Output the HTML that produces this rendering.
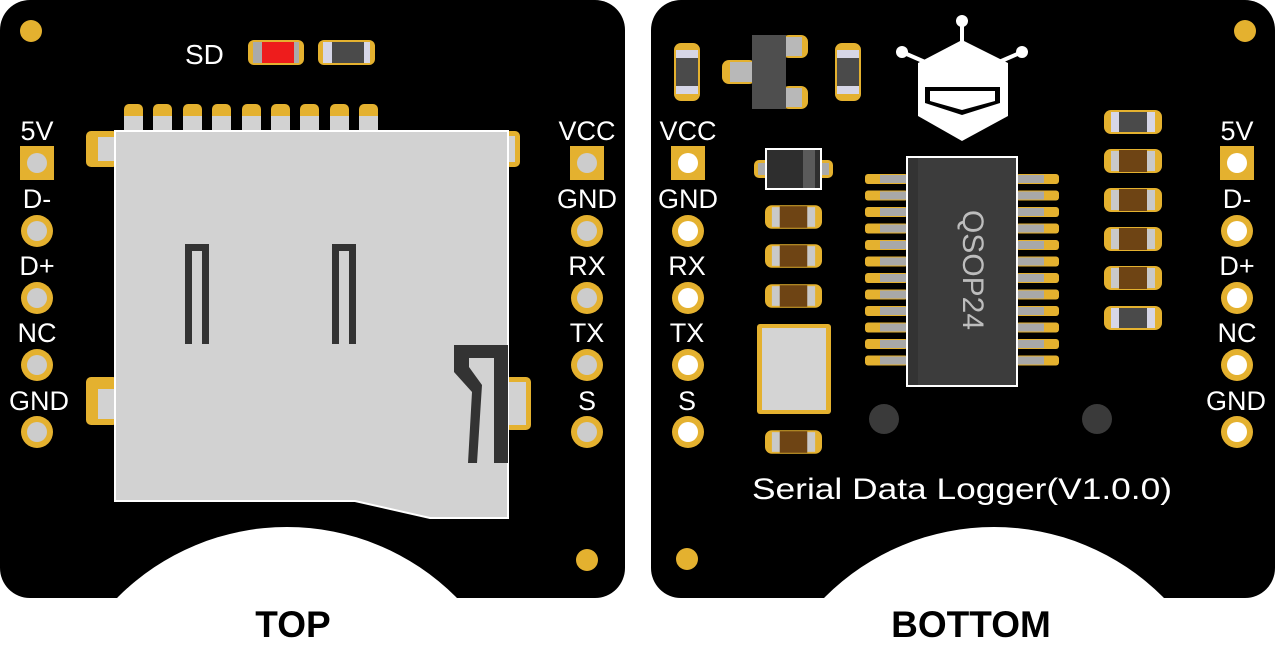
<!DOCTYPE html>
<html><head><meta charset="utf-8"><style>
html,body{margin:0;padding:0;background:#fff;width:1277px;height:646px;overflow:hidden;}
svg{display:block;}
text{font-family:"Liberation Sans",sans-serif;}
</style></head><body>
<svg width="1277" height="646" viewBox="0 0 1277 646" xmlns="http://www.w3.org/2000/svg">
<defs>
<symbol id="hb" viewBox="0 0 58 24"><rect width="58" height="24" rx="7" fill="#e4b12f"/><rect x="7" y="2" width="44" height="20" fill="#c9c9c9"/><rect x="15" y="1" width="28" height="22" fill="#6e4414"/></symbol>
<symbol id="hd" viewBox="0 0 58 24"><rect width="58" height="24" rx="7" fill="#e4b12f"/><rect x="7" y="2" width="44" height="20" fill="#d6d6e6"/><rect x="15" y="2" width="28" height="20" fill="#4a4a4a"/></symbol>
<symbol id="vd" viewBox="0 0 26 58"><rect width="26" height="58" rx="7" fill="#e4b12f"/><rect x="2" y="7" width="22" height="44" fill="#d6d6e6"/><rect x="2" y="15" width="22" height="28" fill="#4a4a4a"/></symbol>
<symbol id="ps" viewBox="0 0 34 34"><rect width="34" height="34" fill="#e4b12f"/><circle cx="17" cy="17" r="10" fill="#cccccc"/></symbol>
<symbol id="pc" viewBox="0 0 34 34"><circle cx="17" cy="17" r="16" fill="#e4b12f"/><circle cx="17" cy="17" r="10" fill="#cccccc"/></symbol>
<symbol id="psw" viewBox="0 0 34 34"><rect width="34" height="34" fill="#e4b12f"/><circle cx="17" cy="17" r="10" fill="#fff"/></symbol>
<symbol id="pcw" viewBox="0 0 34 34"><circle cx="17" cy="17" r="16" fill="#e4b12f"/><circle cx="17" cy="17" r="10" fill="#fff"/></symbol>
</defs>

<!-- LEFT BOARD -->
<rect x="0" y="0" width="625" height="598" rx="30" fill="#000"/>
<circle cx="287" cy="766" r="239" fill="#fff"/>
<circle cx="31" cy="31" r="11" fill="#e4b12f"/>
<circle cx="587" cy="560" r="11" fill="#e4b12f"/>
<text x="185" y="64" font-size="28" fill="#fff">SD</text>
<rect x="248" y="40" width="56" height="25" rx="6" fill="#e4b12f"/><rect x="253" y="42" width="46" height="21" fill="#aaa"/><rect x="262" y="42" width="32" height="21" fill="#ee1c1c"/>
<rect x="318" y="40" width="57" height="25" rx="6" fill="#e4b12f"/><rect x="323" y="42" width="47" height="21" fill="#d6d6e6"/><rect x="332" y="42" width="32" height="21" fill="#4a4a4a"/>
<g fill="#e4b12f">
<rect x="124" y="104" width="19" height="30" rx="5"/><rect x="153" y="104" width="19" height="30" rx="5"/><rect x="183" y="104" width="19" height="30" rx="5"/><rect x="212" y="104" width="19" height="30" rx="5"/><rect x="242" y="104" width="19" height="30" rx="5"/><rect x="271" y="104" width="19" height="30" rx="5"/><rect x="300" y="104" width="19" height="30" rx="5"/><rect x="330" y="104" width="19" height="30" rx="5"/><rect x="359" y="104" width="19" height="30" rx="5"/>
<rect x="86" y="131" width="32" height="36" rx="5"/>
<rect x="86" y="377" width="32" height="48" rx="5"/>
<rect x="505" y="131" width="15" height="36" rx="5"/>
<rect x="505" y="377" width="26" height="53" rx="5"/>
</g>
<g fill="#d2d2d2">
<rect x="124" y="116" width="19" height="15"/><rect x="153" y="116" width="19" height="15"/><rect x="183" y="116" width="19" height="15"/><rect x="212" y="116" width="19" height="15"/><rect x="242" y="116" width="19" height="15"/><rect x="271" y="116" width="19" height="15"/><rect x="300" y="116" width="19" height="15"/><rect x="330" y="116" width="19" height="15"/><rect x="359" y="116" width="19" height="15"/>
<rect x="98" y="137" width="20" height="24"/><rect x="98" y="389" width="20" height="30"/>
<rect x="505" y="136" width="10" height="26"/><rect x="505" y="382" width="21" height="43"/>
</g>
<polygon points="115,131 508,131 508,518 430,518 355,501 115,501" fill="#d2d2d2" stroke="#fff" stroke-width="2"/>
<g fill="#333">
<polygon points="185,244 209,244 209,344 202,344 202,251 192,251 192,344 185,344"/>
<polygon points="332,244 356,244 356,344 349,344 349,251 339,251 339,344 332,344"/>
<polygon points="454,345 508,345 508,463 494,463 494,358 469,358 469,367 482,385 477,463 468,463 472,392 454,372"/>
</g>
<g fill="#fff" font-size="27" text-anchor="middle">
<text x="37" y="140">5V</text><text x="37" y="208">D-</text><text x="37" y="275">D+</text><text x="37" y="342">NC</text><text x="39" y="410">GND</text>
<text x="587" y="140">VCC</text><text x="587" y="208">GND</text><text x="587" y="275">RX</text><text x="587" y="342">TX</text><text x="587" y="410">S</text>
</g>
<use href="#ps" x="20" y="146" width="34" height="34"/>
<use href="#pc" x="20" y="214" width="34" height="34"/>
<use href="#pc" x="20" y="281" width="34" height="34"/>
<use href="#pc" x="20" y="348" width="34" height="34"/>
<use href="#pc" x="20" y="415" width="34" height="34"/>
<use href="#ps" x="570" y="146" width="34" height="34"/>
<use href="#pc" x="570" y="214" width="34" height="34"/>
<use href="#pc" x="570" y="281" width="34" height="34"/>
<use href="#pc" x="570" y="348" width="34" height="34"/>
<use href="#pc" x="570" y="415" width="34" height="34"/>
<text x="293" y="637" font-size="37" font-weight="bold" text-anchor="middle" fill="#000">TOP</text>

<!-- RIGHT BOARD -->
<rect x="651" y="0" width="624" height="598" rx="30" fill="#000"/>
<circle cx="994" cy="766" r="239" fill="#fff"/>
<circle cx="1245" cy="31" r="11" fill="#e4b12f"/>
<circle cx="687" cy="559" r="11" fill="#e4b12f"/>
<use href="#vd" x="674" y="43" width="26" height="58"/>
<use href="#vd" x="835" y="43" width="26" height="58"/>
<rect x="722" y="60" width="34" height="24" rx="7" fill="#e4b12f"/><rect x="730" y="62" width="22" height="20" fill="#b8b8b8"/>
<rect x="782" y="35" width="26" height="23" rx="7" fill="#e4b12f"/><rect x="786" y="37" width="16" height="19" fill="#b8b8b8"/>
<rect x="782" y="86" width="26" height="23" rx="7" fill="#e4b12f"/><rect x="786" y="88" width="16" height="19" fill="#b8b8b8"/>
<rect x="752" y="35" width="34" height="74" fill="#4e4e4e"/>
<g fill="#fff" stroke="#fff">
<line x1="962" y1="21" x2="962" y2="44" stroke-width="4"/>
<line x1="902" y1="52" x2="925" y2="62" stroke-width="4"/>
<line x1="1022" y1="52" x2="999" y2="62" stroke-width="4"/>
<circle cx="962" cy="21" r="6" stroke="none"/><circle cx="902" cy="52" r="6" stroke="none"/><circle cx="1022" cy="52" r="6" stroke="none"/>
<polygon points="962,40 1008,63 1008,116 962,141 918,116 918,63" stroke="none"/>
</g>
<polygon points="925,87 1000,87 1000,103 962,115 925,103" fill="#000"/>
<polygon points="930,91 995,91 995,101 962,110 930,101" fill="#fff"/>
<rect x="754" y="160" width="79" height="18" rx="5" fill="#e4b12f"/><rect x="758" y="163" width="71" height="12" fill="#aaa"/>
<rect x="766" y="149" width="55" height="40" fill="#2e2e2e" stroke="#fff" stroke-width="2"/>
<rect x="803" y="150" width="12" height="38" fill="#5a5a5a"/>
<use href="#hb" x="765" y="205" width="57" height="24"/>
<use href="#hb" x="765" y="244" width="57" height="24"/>
<use href="#hb" x="765" y="284" width="57" height="24"/>
<use href="#hb" x="765" y="430" width="57" height="24"/>
<rect x="757" y="324" width="74" height="90" rx="3" fill="#e4b12f"/><rect x="762" y="328" width="64" height="82" fill="#d4d4d4"/>
<g fill="#e4b12f">
<rect x="865" y="174" width="43" height="10" rx="3"/><rect x="865" y="190.5" width="43" height="10" rx="3"/><rect x="865" y="207" width="43" height="10" rx="3"/><rect x="865" y="223.5" width="43" height="10" rx="3"/><rect x="865" y="240" width="43" height="10" rx="3"/><rect x="865" y="256.5" width="43" height="10" rx="3"/><rect x="865" y="273" width="43" height="10" rx="3"/><rect x="865" y="289.5" width="43" height="10" rx="3"/><rect x="865" y="306" width="43" height="10" rx="3"/><rect x="865" y="322.5" width="43" height="10" rx="3"/><rect x="865" y="339" width="43" height="10" rx="3"/><rect x="865" y="355.5" width="43" height="10" rx="3"/>
<rect x="1016" y="174" width="43" height="10" rx="3"/><rect x="1016" y="190.5" width="43" height="10" rx="3"/><rect x="1016" y="207" width="43" height="10" rx="3"/><rect x="1016" y="223.5" width="43" height="10" rx="3"/><rect x="1016" y="240" width="43" height="10" rx="3"/><rect x="1016" y="256.5" width="43" height="10" rx="3"/><rect x="1016" y="273" width="43" height="10" rx="3"/><rect x="1016" y="289.5" width="43" height="10" rx="3"/><rect x="1016" y="306" width="43" height="10" rx="3"/><rect x="1016" y="322.5" width="43" height="10" rx="3"/><rect x="1016" y="339" width="43" height="10" rx="3"/><rect x="1016" y="355.5" width="43" height="10" rx="3"/>
</g>
<g fill="#a8a8a8">
<rect x="880" y="175" width="28" height="8"/><rect x="880" y="191.5" width="28" height="8"/><rect x="880" y="208" width="28" height="8"/><rect x="880" y="224.5" width="28" height="8"/><rect x="880" y="241" width="28" height="8"/><rect x="880" y="257.5" width="28" height="8"/><rect x="880" y="274" width="28" height="8"/><rect x="880" y="290.5" width="28" height="8"/><rect x="880" y="307" width="28" height="8"/><rect x="880" y="323.5" width="28" height="8"/><rect x="880" y="340" width="28" height="8"/><rect x="880" y="356.5" width="28" height="8"/>
<rect x="1016" y="175" width="28" height="8"/><rect x="1016" y="191.5" width="28" height="8"/><rect x="1016" y="208" width="28" height="8"/><rect x="1016" y="224.5" width="28" height="8"/><rect x="1016" y="241" width="28" height="8"/><rect x="1016" y="257.5" width="28" height="8"/><rect x="1016" y="274" width="28" height="8"/><rect x="1016" y="290.5" width="28" height="8"/><rect x="1016" y="307" width="28" height="8"/><rect x="1016" y="323.5" width="28" height="8"/><rect x="1016" y="340" width="28" height="8"/><rect x="1016" y="356.5" width="28" height="8"/>
</g>
<rect x="907" y="157" width="110" height="229" fill="#3c3c3c" stroke="#fff" stroke-width="2"/>
<rect x="908" y="158" width="10" height="227" fill="#333"/>
<text x="0" y="0" transform="translate(963,270) rotate(90)" font-family="Liberation Serif,serif" font-size="30" fill="#bdbdbd" text-anchor="middle">QSOP24</text>
<circle cx="884" cy="419" r="15" fill="#3a3a3a"/>
<circle cx="1097" cy="419" r="15" fill="#3a3a3a"/>
<use href="#hd" x="1104" y="110" width="58" height="24"/>
<use href="#hb" x="1104" y="149" width="58" height="24"/>
<use href="#hb" x="1104" y="188" width="58" height="24"/>
<use href="#hb" x="1104" y="227" width="58" height="24"/>
<use href="#hb" x="1104" y="266" width="58" height="24"/>
<use href="#hd" x="1104" y="306" width="58" height="24"/>
<g fill="#fff" font-size="27" text-anchor="middle">
<text x="688" y="140">VCC</text><text x="688" y="208">GND</text><text x="687" y="275">RX</text><text x="687" y="342">TX</text><text x="687" y="410">S</text>
<text x="1237" y="140">5V</text><text x="1237" y="208">D-</text><text x="1237" y="275">D+</text><text x="1237" y="342">NC</text><text x="1236" y="410">GND</text>
</g>
<use href="#psw" x="671" y="146" width="34" height="34"/>
<use href="#pcw" x="671" y="214" width="34" height="34"/>
<use href="#pcw" x="671" y="281" width="34" height="34"/>
<use href="#pcw" x="671" y="348" width="34" height="34"/>
<use href="#pcw" x="671" y="415" width="34" height="34"/>
<use href="#psw" x="1220" y="146" width="34" height="34"/>
<use href="#pcw" x="1220" y="214" width="34" height="34"/>
<use href="#pcw" x="1220" y="281" width="34" height="34"/>
<use href="#pcw" x="1220" y="348" width="34" height="34"/>
<use href="#pcw" x="1220" y="415" width="34" height="34"/>
<text x="752" y="499" font-size="30" fill="#fff" textLength="420" lengthAdjust="spacingAndGlyphs">Serial Data Logger(V1.0.0)</text>
<text x="971" y="637" font-size="37" font-weight="bold" text-anchor="middle" fill="#000">BOTTOM</text>
</svg>
</body></html>
